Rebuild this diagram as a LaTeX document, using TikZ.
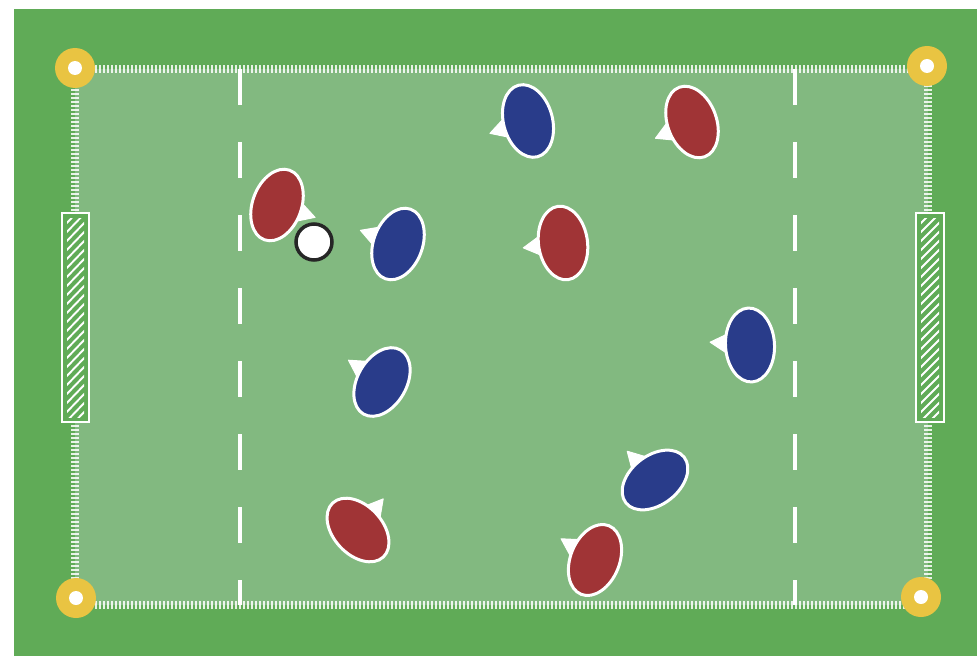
\documentclass[tikz,border=0pt]{standalone}
\usetikzlibrary{calc}
\definecolor{turf}{RGB}{96,171,87}
\definecolor{pitch}{RGB}{130,185,128}
\definecolor{teamred}{RGB}{160,52,54}
\definecolor{teamblue}{RGB}{41,60,138}
\definecolor{cone}{RGB}{233,196,66}
\tikzset{
  fieldline/.style = {white, line width=3.5pt},
  thirdline/.style = {fieldline, dash pattern=on 36pt off 37pt},
  ticks/.style     = {white, line width=8pt, dash pattern=on 1.8pt off 2.2pt, opacity=0.85},
  goalbox/.style   = {draw=white, line width=2pt, fill=turf},
  hatch/.style     = {white, line width=1.9pt},
  nose/.style      = {fill=white, draw=white, line width=1pt, line join=round},
  body/.style      = {draw=white, line width=3pt},
  ballstyle/.style = {fill=white, draw=black!85, line width=3.5pt},
  pin/.style       = {fill=cone},
  pinhole/.style   = {fill=white},
}
% name, x, y, tilt, facing angle, colour
\newcommand{\player}[6]{%
  \coordinate (#1) at (#2,#3);
  \draw[nose] ($(#1)+(#5:40pt)$) -- ($(#1)+(#5+50:20pt)$) -- ($(#1)+(#5-50:20pt)$) -- cycle;
  \draw[body, fill=#6, rotate around={#4:(#1)}] (#1) ellipse [x radius=24.5pt, y radius=37pt];
}
% name, left x, right x
\newcommand{\goal}[3]{%
  \draw[goalbox] (#2,213) rectangle (#3,422);
  \begin{scope}
    \clip (#2+5,218) rectangle (#3-5,417);
    \foreach \k in {0,...,27}
      \draw[hatch] (#2,228+9*\k) -- (#3,200+9*\k);
  \end{scope}
}

\begin{document}
\begin{tikzpicture}[x=1pt, y=-1pt]
\useasboundingbox (0,0) rectangle (977,658);
\fill[white] (0,0) rectangle (977,658);

% ===== turf and pitch =====
\fill[turf] (14,9) rectangle (977,656);
\fill[pitch] (75,69) rectangle (928,605);
\draw[ticks] (75,69) -- (928,69);
\draw[ticks] (75,605) -- (928,605);
\draw[ticks] (75,69) -- (75,605);
\draw[ticks] (928,69) -- (928,605);

% ===== thirds =====
\draw[thirdline] (240,69) -- (240,605);
\draw[thirdline] (795,69) -- (795,605);

% ===== goals =====
\goal{gl}{62}{89}
\goal{gr}{916}{944}

% ===== corner pins =====
\foreach \p in {(75,68), (927,66), (76,598), (921,597)} {
  \fill[pin] \p circle [radius=20pt];
  \fill[pinhole] \p circle [radius=7pt];
}

% ===== red team =====
\player{r1}{277}{205}{-20}{-18}{teamred}
\player{r2}{692}{122}{20}{204}{teamred}
\player{r3}{563}{243}{8}{187}{teamred}
\player{r4}{358}{530}{43}{51}{teamred}
\player{r5}{595}{560}{-22}{148}{teamred}

% ===== blue team =====
\player{b1}{528}{121}{15}{198}{teamblue}
\player{b2}{398}{244}{-20}{160}{teamblue}
\player{b3}{382}{382}{-30}{147}{teamblue}
\player{b4}{750}{345}{3}{176}{teamblue}
\player{b5}{655}{480}{-52}{134}{teamblue}

% ===== ball =====
\coordinate (ball) at (314,242);
\draw[ballstyle] (ball) circle [radius=18pt];

\end{tikzpicture}
\end{document}
